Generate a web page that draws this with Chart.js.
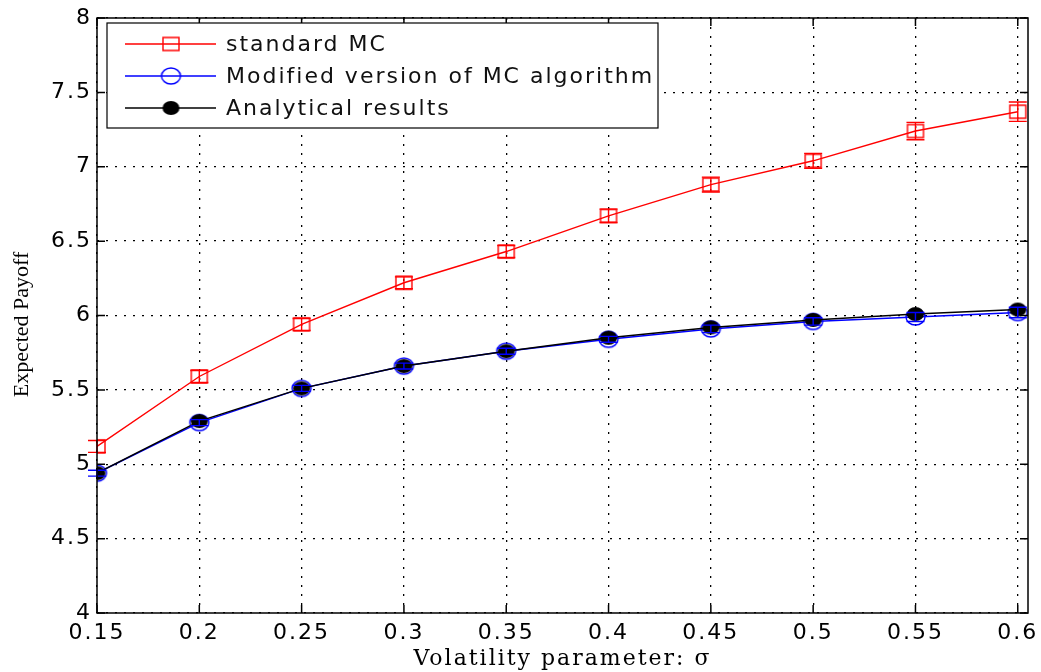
<!DOCTYPE html>
<html>
<head>
<meta charset="utf-8">
<script src="https://cdn.jsdelivr.net/npm/chart.js@4"></script>
<style>
  html, body { margin: 0; padding: 0; background: #fff; }
  #wrap { width: 1041px; height: 672px; }
</style>
</head>
<body>
<div id="wrap"><canvas id="chart" width="1041" height="672"></canvas></div>
<script>
const sigma = [0.15, 0.2, 0.25, 0.3, 0.35, 0.4, 0.45, 0.5, 0.55, 0.6];
const standardMC = [5.12, 5.59, 5.94, 6.22, 6.43, 6.67, 6.88, 7.04, 7.24, 7.37];
const standardErr = [0.04, 0.04, 0.04, 0.04, 0.04, 0.045, 0.05, 0.05, 0.058, 0.065];
const modifiedMC = [4.94, 5.28, 5.51, 5.66, 5.76, 5.84, 5.91, 5.96, 5.99, 6.02];
const modifiedErr = [0.02, 0.02, 0.02, 0.02, 0.02, 0.02, 0.025, 0.025, 0.03, 0.035];
const analytical = [4.94, 5.29, 5.51, 5.66, 5.76, 5.85, 5.92, 5.97, 6.01, 6.04];
const yTicks = [4, 4.5, 5, 5.5, 6, 6.5, 7, 7.5, 8];

const sansFont = "'DejaVu Sans', 'Liberation Sans', sans-serif";
const serifFont = "'DejaVu Serif', 'Liberation Serif', serif";
const titleFont = "'Liberation Serif', 'Times New Roman', serif";
const spacing = "2px";

function pts(ys) {
  return sigma.map((x, i) => ({ x: x, y: ys[i] }));
}

// markers are a bit wider than tall, like the source picture
function marker(kind, color, w, h) {
  const c = document.createElement("canvas");
  c.width = w + 4; c.height = h + 4;
  const g = c.getContext("2d");
  g.lineWidth = 1.4;
  g.strokeStyle = color;
  g.fillStyle = color;
  g.beginPath();
  if (kind === "rect") {
    g.rect(2, 2, w, h);
    g.stroke();
  } else {
    g.ellipse(c.width / 2, c.height / 2, w / 2, h / 2, 0, 0, Math.PI * 2);
    if (kind === "dot") g.fill(); else g.stroke();
  }
  return c;
}
const redMark = marker("rect", "#ff0000", 16, 13);
const blueMark = marker("ring", "#0000ff", 19, 16);
const blackMark = marker("dot", "#000000", 17, 14);

// the source picture is stretched sideways, so widen text a little
const wideText = {
  id: "wideText",
  beforeLayout(chart) { chart.ctx.letterSpacing = spacing; },
  beforeDraw(chart) { chart.ctx.letterSpacing = spacing; }
};

// error bars from the arrays, positioned through the chart scales
const errorBars = {
  id: "errorBars",
  afterDatasetsDraw(chart) {
    const ctx = chart.ctx;
    const xs = chart.scales.x, ys = chart.scales.y;
    chart.data.datasets.forEach(ds => {
      if (!ds.err) return;
      ctx.save();
      ctx.strokeStyle = ds.borderColor;
      ctx.lineWidth = 1.4;
      ds.data.forEach((p, i) => {
        const px = xs.getPixelForValue(p.x);
        const top = ys.getPixelForValue(p.y + ds.err[i]);
        const bot = ys.getPixelForValue(p.y - ds.err[i]);
        ctx.beginPath();
        ctx.moveTo(px, top); ctx.lineTo(px, bot);
        ctx.moveTo(px - 9, top); ctx.lineTo(px + 9, top);
        ctx.moveTo(px - 9, bot); ctx.lineTo(px + 9, bot);
        ctx.stroke();
      });
      ctx.restore();
    });
  }
};

// box round the plot area, inward ticks, y title and the legend inside it
const boxLegend = {
  id: "boxLegend",
  afterDraw(chart) {
    const ctx = chart.ctx;
    const a = chart.chartArea;
    const xs = chart.scales.x, ys = chart.scales.y;
    ctx.save();
    ctx.strokeStyle = "#000";
    ctx.lineWidth = 1.5;
    ctx.strokeRect(a.left, a.top, a.right - a.left, a.bottom - a.top);

    ctx.beginPath();
    sigma.forEach(v => {
      const px = xs.getPixelForValue(v);
      ctx.moveTo(px, a.bottom); ctx.lineTo(px, a.bottom - 8);
      ctx.moveTo(px, a.top); ctx.lineTo(px, a.top + 8);
    });
    yTicks.forEach(v => {
      const py = ys.getPixelForValue(v);
      ctx.moveTo(a.left, py); ctx.lineTo(a.left + 8, py);
      ctx.moveTo(a.right, py); ctx.lineTo(a.right - 8, py);
    });
    ctx.stroke();

    // y axis title
    ctx.save();
    ctx.letterSpacing = "0px";
    ctx.translate(22, (a.top + a.bottom) / 2 + 9);
    ctx.rotate(-Math.PI / 2);
    ctx.font = "22px " + titleFont;
    ctx.fillStyle = "#000";
    ctx.textAlign = "center";
    ctx.textBaseline = "middle";
    ctx.fillText("Expected Payoff", 0, 0);
    ctx.restore();

    const lx = a.left + 10, ly = a.top + 5, lw = 551, lh = 105;
    ctx.fillStyle = "#fff";
    ctx.fillRect(lx, ly, lw, lh);
    ctx.lineWidth = 1.2;
    ctx.strokeRect(lx, ly, lw, lh);

    const items = [
      { text: "standard MC", color: "#ff0000", img: redMark },
      { text: "Modified version of MC algorithm", color: "#0000ff", img: blueMark },
      { text: "Analytical results", color: "#000000", img: blackMark }
    ];
    ctx.font = "22px " + sansFont;
    ctx.textBaseline = "middle";
    ctx.letterSpacing = spacing;
    items.forEach((it, i) => {
      const y = ly + 21 + i * 32;
      ctx.strokeStyle = it.color;
      ctx.lineWidth = 1.4;
      ctx.beginPath();
      ctx.moveTo(lx + 18, y); ctx.lineTo(lx + 109, y);
      ctx.stroke();
      const mx = lx + 64;
      ctx.drawImage(it.img, mx - it.img.width / 2, y - it.img.height / 2);
      ctx.fillStyle = "#111";
      ctx.fillText(it.text, lx + 119, y + 1);
    });
    ctx.restore();
  }
};

const gridOpts = { color: "#000", lineWidth: 1.3, drawTicks: false };
const borderOpts = { display: false, dash: [2, 7] };

new Chart(document.getElementById("chart").getContext("2d"), {
  type: "line",
  data: {
    datasets: [
      {
        label: "standard MC",
        data: pts(standardMC),
        err: standardErr,
        borderColor: "#ff0000",
        backgroundColor: "rgba(0,0,0,0)",
        borderWidth: 1.4,
        pointStyle: redMark,
        order: 2
      },
      {
        label: "Modified version of MC algorithm",
        data: pts(modifiedMC),
        err: modifiedErr,
        borderColor: "#0000ff",
        backgroundColor: "rgba(0,0,0,0)",
        borderWidth: 1.5,
        pointStyle: blueMark,
        order: 1
      },
      {
        label: "Analytical results",
        data: pts(analytical),
        borderColor: "#000",
        backgroundColor: "#000",
        borderWidth: 1.5,
        pointStyle: blackMark,
        order: 0
      }
    ]
  },
  options: {
    responsive: false,
    animation: false,
    layout: { padding: { top: 18, right: 13, left: 0, bottom: 0 } },
    plugins: {
      legend: { display: false },
      tooltip: { enabled: false }
    },
    scales: {
      x: {
        type: "linear",
        min: 0.15,
        max: 0.605,
        afterBuildTicks: s => { s.ticks = sigma.map(v => ({ value: v })); },
        afterFit: s => { s.height = 59; s.paddingLeft = 0; s.paddingRight = 0; },
        grid: gridOpts,
        border: borderOpts,
        ticks: {
          font: { family: sansFont, size: 22 },
          color: "#000",
          padding: 7,
          maxRotation: 0,
          autoSkip: false,
          callback: v => String(v)
        },
        title: {
          display: true,
          text: "Volatility parameter: σ",
          font: { family: serifFont, size: 22 },
          color: "#000",
          padding: { top: 0, bottom: 0 }
        }
      },
      y: {
        min: 4,
        max: 8,
        afterBuildTicks: s => { s.ticks = yTicks.map(v => ({ value: v })); },
        afterFit: s => { s.width = 97; s.paddingTop = 0; s.paddingBottom = 0; },
        grid: gridOpts,
        border: borderOpts,
        ticks: {
          font: { family: sansFont, size: 22 },
          color: "#000",
          padding: 5,
          autoSkip: false,
          callback: v => String(v)
        },
        title: { display: false }
      }
    }
  },
  plugins: [wideText, errorBars, boxLegend]
});
</script>
</body>
</html>
